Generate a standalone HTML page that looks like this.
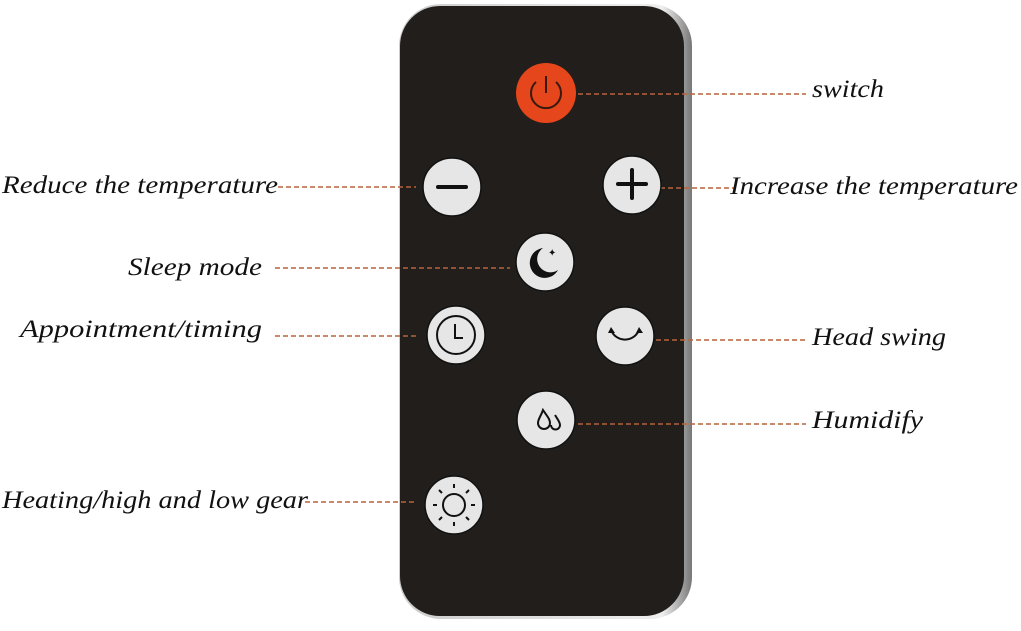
<!DOCTYPE html>
<html><head><style>
body{margin:0;background:#fff;width:1021px;height:626px;overflow:hidden}
</style></head><body>
<svg width="1021" height="626" viewBox="0 0 1021 626" xmlns="http://www.w3.org/2000/svg">
<defs><linearGradient id="g" x1="0" x2="1"><stop offset="0" stop-color="#ccc"/><stop offset="0.9" stop-color="#eee"/><stop offset="1" stop-color="#777"/></linearGradient></defs>
<rect x="399" y="4" width="293" height="615" rx="42" fill="url(#g)"/>
<rect x="400" y="6" width="284" height="610" rx="40" fill="#221e1b"/>
<g stroke="#b5643a" stroke-width="1.6" stroke-dasharray="5,3" fill="none">
<line x1="578" y1="94" x2="806" y2="94"/>
<line x1="278" y1="187" x2="416" y2="187"/>
<line x1="660" y1="188" x2="736" y2="188"/>
<line x1="275" y1="268" x2="510" y2="268"/>
<line x1="275" y1="336" x2="416" y2="336"/>
<line x1="656" y1="340" x2="806" y2="340"/>
<line x1="570" y1="424" x2="806" y2="424"/>
<line x1="305" y1="502" x2="416" y2="502"/>
</g>
<circle cx="546" cy="93" r="30" fill="#e5461b"/>
<path d="M536 82 A15 15 0 1 0 556 82" stroke="#3a1a10" stroke-width="2" fill="none"/>
<line x1="546" y1="76" x2="546" y2="93" stroke="#3a1a10" stroke-width="2"/>
<g fill="#e6e6e6" stroke="#111" stroke-width="1.5">
<circle cx="452" cy="187" r="29"/><circle cx="632" cy="185" r="29"/>
<circle cx="545" cy="262" r="29"/><circle cx="456" cy="335" r="29"/>
<circle cx="625" cy="336" r="29"/><circle cx="546" cy="420" r="29"/>
<circle cx="454" cy="505" r="29"/>
</g>
<g stroke="#111" fill="none" stroke-width="4" stroke-linecap="round">
<line x1="438" y1="187" x2="466" y2="187"/>
<line x1="618" y1="184" x2="646" y2="184"/><line x1="632" y1="170" x2="632" y2="198"/>
</g>
<path d="M543 248 A15 15 0 1 0 558 270 A12 12 0 1 1 543 248Z" fill="#111"/>
<text x="548" y="256" font-size="10" fill="#111">✦</text>
<g fill="none" stroke="#111" stroke-width="2">
<circle cx="456" cy="335" r="19"/><path d="M455 324 V338 H463"/>
<path d="M611 330 A15 15 0 0 0 639 330"/>
<path d="M550 412 c4 6 7 9 7 13 a6 6 0 0 1 -12 0 c0 -4 3 -7 5 -13z" transform="translate(-7,-2)"/>
<path d="M552 414 c3 5 5 7 5 10 a4.5 4.5 0 0 1 -9 0" transform="translate(3,1)"/>
<circle cx="454" cy="505" r="11"/>
</g>
<path d="M608 333 l3 -6 l4 6z M636 333 l3 -6 l4 6z" fill="#111"/>
<g stroke="#111" stroke-width="2">
<line x1="454" y1="488" x2="454" y2="484"/><line x1="454" y1="522" x2="454" y2="526"/>
<line x1="437" y1="505" x2="433" y2="505"/><line x1="471" y1="505" x2="475" y2="505"/>
<line x1="442" y1="493" x2="439" y2="490"/><line x1="466" y1="493" x2="469" y2="490"/>
<line x1="442" y1="517" x2="439" y2="520"/><line x1="466" y1="517" x2="469" y2="520"/>
</g>
<g font-family="Liberation Serif, serif" font-style="italic" font-size="25" fill="#111" lengthAdjust="spacingAndGlyphs">
<text x="812" y="97" textLength="72" lengthAdjust="spacingAndGlyphs">switch</text>
<text x="2" y="193" textLength="276" lengthAdjust="spacingAndGlyphs">Reduce the temperature</text>
<text x="730" y="194" textLength="288" lengthAdjust="spacingAndGlyphs">Increase the temperature</text>
<text x="128" y="275" textLength="134" lengthAdjust="spacingAndGlyphs">Sleep mode</text>
<text x="20" y="337" textLength="242" lengthAdjust="spacingAndGlyphs">Appointment/timing</text>
<text x="812" y="345" textLength="134" lengthAdjust="spacingAndGlyphs">Head swing</text>
<text x="812" y="428" textLength="111" lengthAdjust="spacingAndGlyphs">Humidify</text>
<text x="2" y="508" textLength="306" lengthAdjust="spacingAndGlyphs">Heating/high and low gear</text>
</g>
</svg>
</body></html>
